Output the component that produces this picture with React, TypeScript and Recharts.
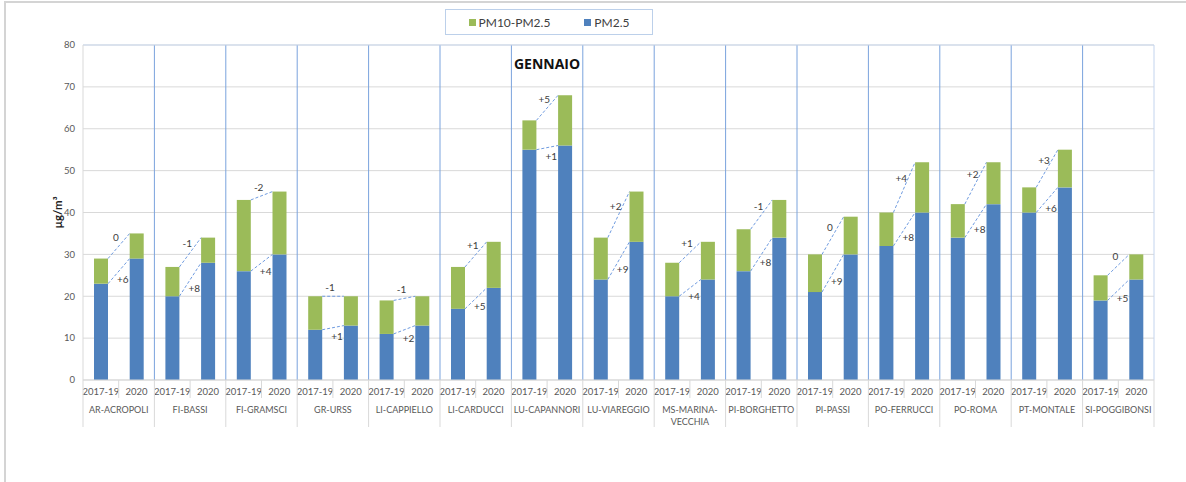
import React from "react";
import { Bar, BarChart, CartesianGrid, ReferenceLine, XAxis, YAxis } from "recharts";

const stations = [
  "AR-ACROPOLI",
  "FI-BASSI",
  "FI-GRAMSCI",
  "GR-URSS",
  "LI-CAPPIELLO",
  "LI-CARDUCCI",
  "LU-CAPANNORI",
  "LU-VIAREGGIO",
  "MS-MARINA-VECCHIA",
  "PI-BORGHETTO",
  "PI-PASSI",
  "PO-FERRUCCI",
  "PO-ROMA",
  "PT-MONTALE",
  "SI-POGGIBONSI",
];
const periods = ["2017-19", "2020"];

// PM2.5 and PM10 (total bar height), µg/m³
const pm25Base = [23, 20, 26, 12, 11, 17, 55, 24, 20, 26, 21, 32, 34, 40, 19];
const pm25Now = [29, 28, 30, 13, 13, 22, 56, 33, 24, 34, 30, 40, 42, 46, 24];
const pm10Base = [29, 27, 43, 20, 19, 27, 62, 34, 28, 36, 30, 40, 42, 46, 25];
const pm10Now = [35, 34, 45, 20, 20, 33, 68, 45, 33, 43, 39, 52, 52, 55, 30];

// labels on the dashed connectors
const coarseDelta = ["0", "-1", "-2", "-1", "-1", "+1", "+5", "+2", "+1", "-1", "0", "+4", "+2", "+3", "0"];
const pm25Delta = ["+6", "+8", "+4", "+1", "+2", "+5", "+1", "+9", "+4", "+8", "+9", "+8", "+8", "+6", "+5"];

const yTicks = [0, 10, 20, 30, 40, 50, 60, 70, 80];

const BLUE = "#4f81bd";
const GREEN = "#9bbb59";
const LINK = "#6f9be0";
const FONT = "Lato, 'Open Sans', sans-serif";

const W = 1186;
const H = 482;
const MARGIN = { top: 45, right: 32, bottom: 55, left: 53 };
const Y_AXIS_W = 30;
const X_AXIS_H = 47;
const PLOT_W = W - MARGIN.left - MARGIN.right - Y_AXIS_W;
const STEP = PLOT_W / (stations.length * periods.length);

type Row = {
  key: string;
  station: string;
  period: number;
  pm25: number;
  coarse: number;
  nextPm25: number;
  nextTotal: number;
  coarseLabel: string;
  pm25Label: string;
};

const data: Row[] = [];
stations.forEach((st, i) => {
  const a = [pm25Base[i], pm25Now[i]];
  const t = [pm10Base[i], pm10Now[i]];
  periods.forEach((per, p) => {
    data.push({
      key: `${st}|${per}`,
      station: st,
      period: p,
      pm25: a[p],
      coarse: t[p] - a[p],
      nextPm25: a[1],
      nextTotal: t[1],
      coarseLabel: coarseDelta[i],
      pm25Label: pm25Delta[i],
    });
  });
});

const CoarseShape = (props: any) => {
  const { x, y, width, height, payload, fill } = props;
  const rect = <rect x={x} y={y} width={width} height={height} fill={fill} />;
  if (payload.period !== 0) return rect;
  const ppu = height / payload.coarse;
  const base = y + height + payload.pm25 * ppu;
  const x1 = x + width;
  const x2 = x + STEP;
  const top2 = base - payload.nextTotal * ppu;
  const low1 = y + height;
  const low2 = base - payload.nextPm25 * ppu;
  const mx = (x1 + x2) / 2;
  return (
    <g>
      {rect}
      <line x1={x1} y1={y} x2={x2} y2={top2} stroke={LINK} strokeDasharray="3 2" strokeWidth={1} />
      <line x1={x1} y1={low1} x2={x2} y2={low2} stroke={LINK} strokeDasharray="3 2" strokeWidth={1} />
      <text x={mx - 3} y={(y + top2) / 2 - 5} textAnchor="middle" fontSize={10} fill="#404040" fontFamily={FONT}>
        {payload.coarseLabel}
      </text>
      <text x={mx + 4} y={(low1 + low2) / 2 + 12} textAnchor="middle" fontSize={10} fill="#404040" fontFamily={FONT}>
        {payload.pm25Label}
      </text>
    </g>
  );
};

const splitName = (name: string) => {
  if (name.length <= 14) return [name];
  const cut = name.lastIndexOf("-", 12);
  return [name.slice(0, cut + 1), name.slice(cut + 1)];
};

const XTick = (props: any) => {
  const { x, y, index } = props;
  const row = data[index];
  const last = index === data.length - 1;
  const sep = "#d9d9d9";
  return (
    <g>
      <text x={x} y={y + 15} textAnchor="middle" fontSize={9.5} fill="#595959" fontFamily={FONT}>
        {periods[row.period]}
      </text>
      {row.period === 0 && (
        <>
          <line x1={x - STEP / 2} y1={y} x2={x - STEP / 2} y2={y + X_AXIS_H} stroke={sep} />
          <line x1={x + STEP / 2} y1={y} x2={x + STEP / 2} y2={y + 18} stroke={sep} />
          {splitName(row.station).map((s, k) => (
            <text
              key={k}
              x={x + STEP / 2}
              y={y + 33 + k * 12}
              textAnchor="middle"
              fontSize={9}
              fill="#595959"
              fontFamily={FONT}
            >
              {s}
            </text>
          ))}
        </>
      )}
      {last && <line x1={x + STEP / 2} y1={y} x2={x + STEP / 2} y2={y + X_AXIS_H} stroke={sep} />}
    </g>
  );
};

const LegendBox = () => (
  <div
    style={{
      position: "absolute",
      left: 445,
      top: 9,
      width: 208,
      height: 26,
      border: "1px solid #bcd0ea",
      display: "flex",
      alignItems: "center",
      justifyContent: "center",
      gap: 34,
      fontFamily: FONT,
      fontSize: 12,
      color: "#404040",
      boxSizing: "border-box",
    }}
  >
    <span style={{ display: "flex", alignItems: "center" }}>
      <span style={{ width: 7, height: 7, background: GREEN, marginRight: 3 }} />
      PM10-PM2.5
    </span>
    <span style={{ display: "flex", alignItems: "center" }}>
      <span style={{ width: 7, height: 7, background: BLUE, marginRight: 3 }} />
      PM2.5
    </span>
  </div>
);

export default function App() {
  return (
    <div
      style={{
        position: "absolute",
        left: 0,
        top: 0,
        width: W,
        height: H,
        background: "#fff",
      }}
    >
      <div
        style={{
          position: "absolute",
          left: 4,
          top: 1,
          width: W - 4,
          height: H - 1,
          borderLeft: "2px solid #d4d4d4",
          borderTop: "2px solid #d4d4d4",
        }}
      />
      <LegendBox />
      <div
        style={{
          position: "absolute",
          left: 508,
          top: 54,
          width: 78,
          textAlign: "center",
          fontFamily: "'Open Sans', sans-serif",
          fontWeight: 700,
          fontSize: 14,
          color: "#111",
          zIndex: 2,
        }}
      >
        GENNAIO
      </div>
      <BarChart width={W} height={H} data={data} margin={MARGIN} barSize={14} style={{ position: "absolute", left: 0, top: 0 }}>
        <CartesianGrid horizontal vertical={false} stroke="#d9d9d9" />
        <CartesianGrid
          horizontal={false}
          vertical
          stroke="#7aa3dd"
          verticalCoordinatesGenerator={({ offset }: any) =>
            stations.slice(1).map((_, i) => offset.left + ((i + 1) * offset.width) / stations.length)
          }
        />
        <CartesianGrid
          horizontal={false}
          vertical
          stroke="#c3d4ee"
          verticalCoordinatesGenerator={({ offset }: any) => [offset.left + offset.width]}
        />
        <ReferenceLine y={80} stroke="#c9d8ee" />
        <XAxis
          dataKey="key"
          interval={0}
          height={X_AXIS_H}
          tickLine={false}
          tickSize={0}
          tickMargin={0}
          axisLine={{ stroke: "#d9d9d9" }}
          tick={XTick}
        />
        <YAxis
          width={Y_AXIS_W}
          domain={[0, 80]}
          ticks={yTicks}
          tickLine={false}
          axisLine={{ stroke: "#d9d9d9" }}
          tick={{ fontSize: 9.5, fill: "#595959", fontFamily: FONT }}
          label={{
            value: "µg/m³",
            angle: -90,
            position: "insideLeft",
            offset: 5,
            style: { fontSize: 11.5, fontWeight: 700, fill: "#222", fontFamily: FONT, textAnchor: "middle" },
          }}
        />
        <Bar dataKey="pm25" name="PM2.5" stackId="s" fill={BLUE} isAnimationActive={false} />
        <Bar
          dataKey="coarse"
          name="PM10-PM2.5"
          stackId="s"
          fill={GREEN}
          shape={CoarseShape}
          isAnimationActive={false}
        />
      </BarChart>
    </div>
  );
}
